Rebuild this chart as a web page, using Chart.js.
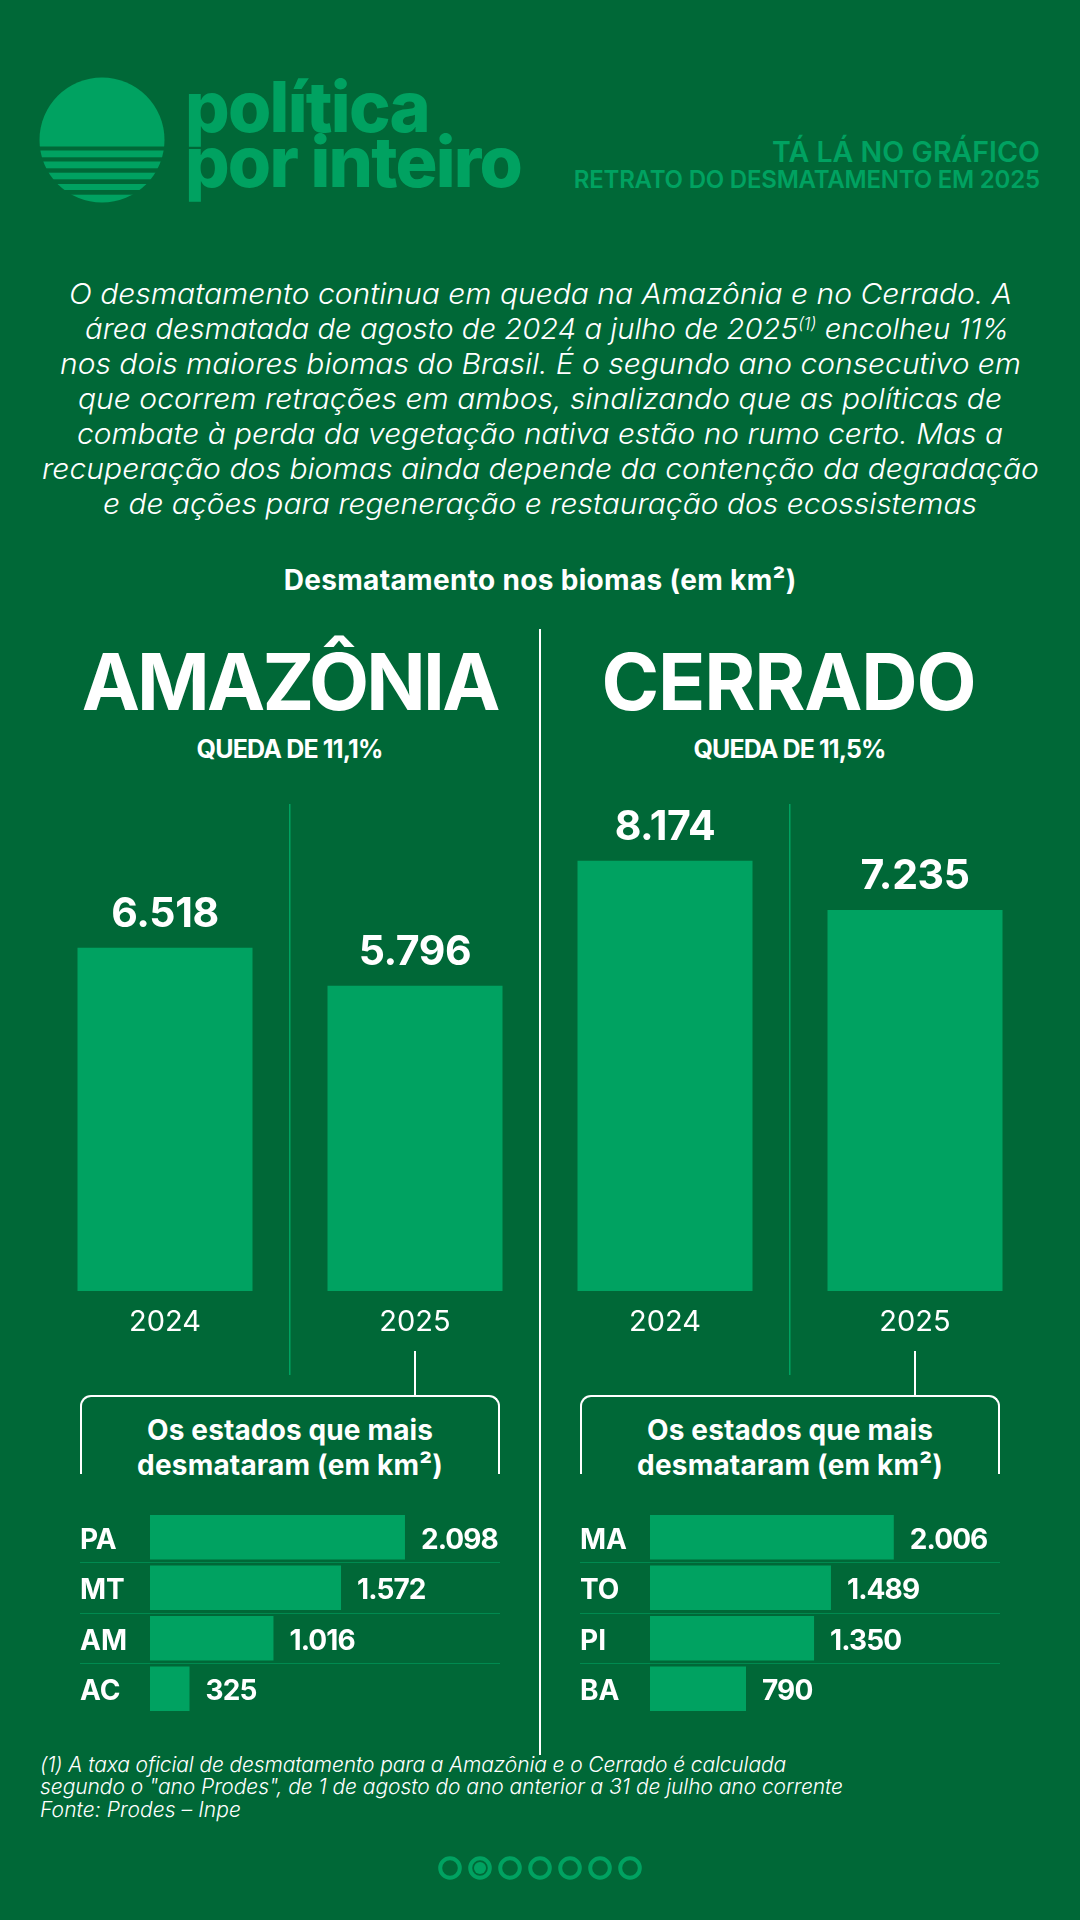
<!DOCTYPE html>
<html lang="pt-BR">
<head>
<meta charset="utf-8">
<title>Retrato do desmatamento em 2025</title>
<script src="https://cdn.jsdelivr.net/npm/chart.js@4"></script>
<style>
html,body{margin:0;padding:0;width:1080px;height:1920px;overflow:hidden;background:#006837}
#stage{position:relative;width:1080px;height:1920px;overflow:hidden;background:#006837;font-family:Inter,"Noto Sans",sans-serif}
canvas{position:absolute;display:block}
.t{position:absolute;white-space:nowrap;line-height:1.2;transform-origin:0 0}
.t sup{font-size:58%;line-height:0;vertical-align:baseline;position:relative;top:-.55em}
.rule{position:absolute;background:#fff}
.bracket{position:absolute;box-sizing:border-box;border:2px solid #fff;border-bottom:none;border-radius:11px 11px 0 0}
svg{position:absolute}
</style>
</head>
<body>
<div id="stage">
<svg style="left:0;top:0" width="240" height="240" viewBox="0 0 240 240">
  <defs><clipPath id="sun"><circle cx="102" cy="140" r="62.5"/></clipPath></defs>
  <g clip-path="url(#sun)" fill="#00A261">
    <rect x="30" y="70" width="150" height="76.5"/>
    <rect x="30" y="150.5" width="150" height="6.8"/>
    <rect x="30" y="161.5" width="150" height="6.8"/>
    <rect x="30" y="172.7" width="150" height="6.6"/>
    <rect x="30" y="184" width="150" height="6"/>
    <rect x="30" y="194.7" width="150" height="9"/>
  </g>
</svg>
<svg style="left:430px;top:1840px" width="220" height="56" viewBox="430 1840 220 56">
  <g fill="none" stroke="#00A261" stroke-width="4">
    <circle cx="450" cy="1868" r="9.8"/><circle cx="480" cy="1868" r="9.8"/><circle cx="510" cy="1868" r="9.8"/>
    <circle cx="540" cy="1868" r="9.8"/><circle cx="570" cy="1868" r="9.8"/><circle cx="600" cy="1868" r="9.8"/><circle cx="630" cy="1868" r="9.8"/>
  </g>
  <circle cx="480" cy="1868" r="6" fill="#00A261"/>
</svg>
<div class="rule" style="left:539px;top:629px;width:2px;height:1126px"></div>
<div class="bracket" style="left:80px;top:1395px;width:420px;height:79px"></div>
<div class="bracket" style="left:580px;top:1395px;width:420px;height:79px"></div>
<div class="rule" style="left:414px;top:1351px;width:2px;height:45px"></div>
<div class="rule" style="left:914px;top:1351px;width:2px;height:45px"></div>
<canvas id="bigA" width="500" height="571" style="left:40px;top:804px;width:500px;height:571px"></canvas>
<canvas id="bigC" width="500" height="571" style="left:540px;top:804px;width:500px;height:571px"></canvas>
<canvas id="stA" width="420" height="202" style="left:80px;top:1512px;width:420px;height:202px"></canvas>
<canvas id="stC" width="420" height="202" style="left:580px;top:1512px;width:420px;height:202px"></canvas>
</div>
<script>
const BG = '#006837', GREEN = '#00A261', WHITE = '#ffffff';

const years = ['2024', '2025'];
const amazoniaTotals = [6518, 5796];
const cerradoTotals = [8174, 7235];
const amazoniaStates = ['PA', 'MT', 'AM', 'AC'];
const amazoniaStateValues = [2098, 1572, 1016, 325];
const cerradoStates = ['MA', 'TO', 'PI', 'BA'];
const cerradoStateValues = [2006, 1489, 1350, 790];

const fmt = v => String(v).replace(/\B(?=(\d{3})+$)/g, '.');

/* text: [html, anchor x, baseline, target width, align, size, weight, style, colour, stretch] */
const texts = [
  ['política', 185, 132, 244, 'l', 70, 800, 'normal', GREEN],
  ['por inteiro', 185, 187, 336, 'l', 70, 800, 'normal', GREEN],
  ['TÁ LÁ NO GRÁFICO', 1040, 162, 268, 'r', 28.5, 600, 'normal', GREEN],
  ['RETRATO DO DESMATAMENTO EM 2025', 1040, 188, 466, 'r', 24, 600, 'normal', GREEN],
  ['O desmatamento continua em queda na Amazônia e no Cerrado. A', 540, 304, 943, 'c', 29, 300, 'italic', WHITE, 1],
  ['área desmatada de agosto de 2024 a julho de 2025<sup>(1)</sup> encolheu 11%', 546.5, 339, 924, 'c', 29, 300, 'italic', WHITE, 1],
  ['nos dois maiores biomas do Brasil. É o segundo ano consecutivo em', 540, 374, 961, 'c', 29, 300, 'italic', WHITE, 1],
  ['que ocorrem retrações em ambos, sinalizando que as políticas de', 540, 409, 924, 'c', 29, 300, 'italic', WHITE, 1],
  ['combate à perda da vegetação nativa estão no rumo certo. Mas a', 540, 444, 926, 'c', 29, 300, 'italic', WHITE, 1],
  ['recuperação dos biomas ainda depende da contenção da degradação', 540, 479, 997, 'c', 29, 300, 'italic', WHITE, 1],
  ['e de ações para regeneração e restauração dos ecossistemas', 540, 514, 874, 'c', 29, 300, 'italic', WHITE, 1],
  ['Desmatamento nos biomas (em km²)', 540, 590, 513, 'c', 28, 700, 'normal', WHITE],
  ['AMAZÔNIA', 291, 710, 416, 'c', 78, 700, 'normal', WHITE],
  ['CERRADO', 789, 710, 374, 'c', 78, 700, 'normal', WHITE],
  ['QUEDA DE 11,1%', 290, 758, 186, 'c', 25, 700, 'normal', WHITE],
  ['QUEDA DE 11,5%', 790, 758, 192, 'c', 25, 700, 'normal', WHITE],
  ['Os estados que mais', 290, 1440, 286, 'c', 28, 700, 'normal', WHITE],
  ['desmataram (em km²)', 290, 1475, 306, 'c', 28, 700, 'normal', WHITE],
  ['Os estados que mais', 790, 1440, 286, 'c', 28, 700, 'normal', WHITE],
  ['desmataram (em km²)', 790, 1475, 306, 'c', 28, 700, 'normal', WHITE],
  ['(1) A taxa oficial de desmatamento para a Amazônia e o Cerrado é calculada', 40, 1771.5, 746, 'l', 21, 300, 'italic', WHITE],
  ['segundo o "ano Prodes", de 1 de agosto do ano anterior a 31 de julho ano corrente', 40, 1794, 803, 'l', 21, 300, 'italic', WHITE],
  ['Fonte: Prodes – Inpe', 40, 1817, 201, 'l', 21, 300, 'italic', WHITE]
];

const stage = document.getElementById('stage');
texts.forEach(([html, x, base, w, align, size, weight, style, color, stretch]) => {
  const el = document.createElement('div');
  el.className = 't';
  el.innerHTML = html;
  el.style.cssText = `left:0;top:0;font-size:${size}px;font-weight:${weight};font-style:${style};color:${color}`;
  stage.appendChild(el);
  const n = el.textContent.length;
  const natural = el.getBoundingClientRect().width;
  let width = w;
  if (stretch) {
    el.style.transform = `scaleX(${(w / natural).toFixed(4)})`;
  } else {
    const ls = (w - natural) / n;
    el.style.letterSpacing = ls.toFixed(3) + 'px';
    width = el.getBoundingClientRect().width - ls;
  }
  const left = align === 'l' ? x : align === 'r' ? x - width : x - width / 2;
  const probe = document.createElement('span');
  probe.style.cssText = 'display:inline-block;width:0;height:0';
  el.appendChild(probe);
  const b = probe.getBoundingClientRect().bottom;
  probe.remove();
  el.style.left = left.toFixed(2) + 'px';
  el.style.top = (base - b).toFixed(2) + 'px';
});

const valueLabels = {
  id: 'valueLabels',
  afterDatasetsDraw(chart, args, opts) {
    const { ctx } = chart;
    const ds = chart.data.datasets[0];
    ctx.save();
    ctx.fillStyle = WHITE;
    ctx.font = opts.font;
    ctx.letterSpacing = opts.spacing;
    chart.getDatasetMeta(0).data.forEach((bar, i) => {
      const label = fmt(ds.data[i]);
      ctx.textBaseline = 'alphabetic';
      if (opts.horizontal) {
        ctx.textAlign = 'left';
        ctx.fillText(label, bar.x + 16, bar.y + 11.5);
      } else {
        ctx.textAlign = 'center';
        ctx.fillText(label, bar.x, bar.y - 21);
      }
    });
    ctx.restore();
  }
};

function bigChart(id, labels, values) {
  return new Chart(document.getElementById(id), {
    type: 'bar',
    data: { labels, datasets: [{ data: values, backgroundColor: GREEN, borderWidth: 0, barPercentage: 0.7, categoryPercentage: 1 }] },
    plugins: [valueLabels],
    options: {
      responsive: false, animation: false, devicePixelRatio: 1,
      layout: { padding: 0 },
      plugins: { legend: { display: false }, tooltip: { enabled: false },
        valueLabels: { font: '700 41px Inter', spacing: '-0.4px', horizontal: false } },
      scales: {
        x: {
          afterFit(s) { s.height = 84; },
          border: { display: false },
          grid: { offset: true, lineWidth: 1.5, tickLength: 84,
            color: c => c.index === 1 ? GREEN : 'rgba(0,0,0,0)',
            tickColor: c => c.index === 1 ? GREEN : 'rgba(0,0,0,0)' },
          ticks: { color: WHITE, padding: -70, maxRotation: 0, font: { family: 'Inter', size: 29, weight: '400' } }
        },
        y: { display: false, min: 0, max: 9250 }
      }
    }
  });
}

function stateChart(id, labels, values) {
  return new Chart(document.getElementById(id), {
    type: 'bar',
    data: { labels, datasets: [{ data: values, backgroundColor: GREEN, borderWidth: 0, barPercentage: 0.88, categoryPercentage: 1 }] },
    plugins: [valueLabels],
    options: {
      indexAxis: 'y', responsive: false, animation: false, devicePixelRatio: 1,
      layout: { padding: 0 },
      plugins: { legend: { display: false }, tooltip: { enabled: false },
        valueLabels: { font: '700 28px Inter', spacing: '-0.9px', horizontal: true } },
      scales: {
        x: { display: false, min: 0, max: 2880 },
        y: {
          afterFit(s) { s.width = 70; s.paddingTop = 0; s.paddingBottom = 0; },
          border: { display: false },
          grid: { offset: true, lineWidth: 1, tickLength: 70,
            color: c => (c.index > 0 && c.index < 4) ? '#008A50' : 'rgba(0,0,0,0)',
            tickColor: c => (c.index > 0 && c.index < 4) ? '#008A50' : 'rgba(0,0,0,0)' },
          ticks: { color: WHITE, crossAlign: 'far', padding: 0, labelOffset: 3, font: { family: 'Inter', size: 28, weight: '700' } }
        }
      }
    }
  });
}

bigChart('bigA', years, amazoniaTotals);
bigChart('bigC', years, cerradoTotals);
stateChart('stA', amazoniaStates, amazoniaStateValues);
stateChart('stC', cerradoStates, cerradoStateValues);
</script>
</body>
</html>
